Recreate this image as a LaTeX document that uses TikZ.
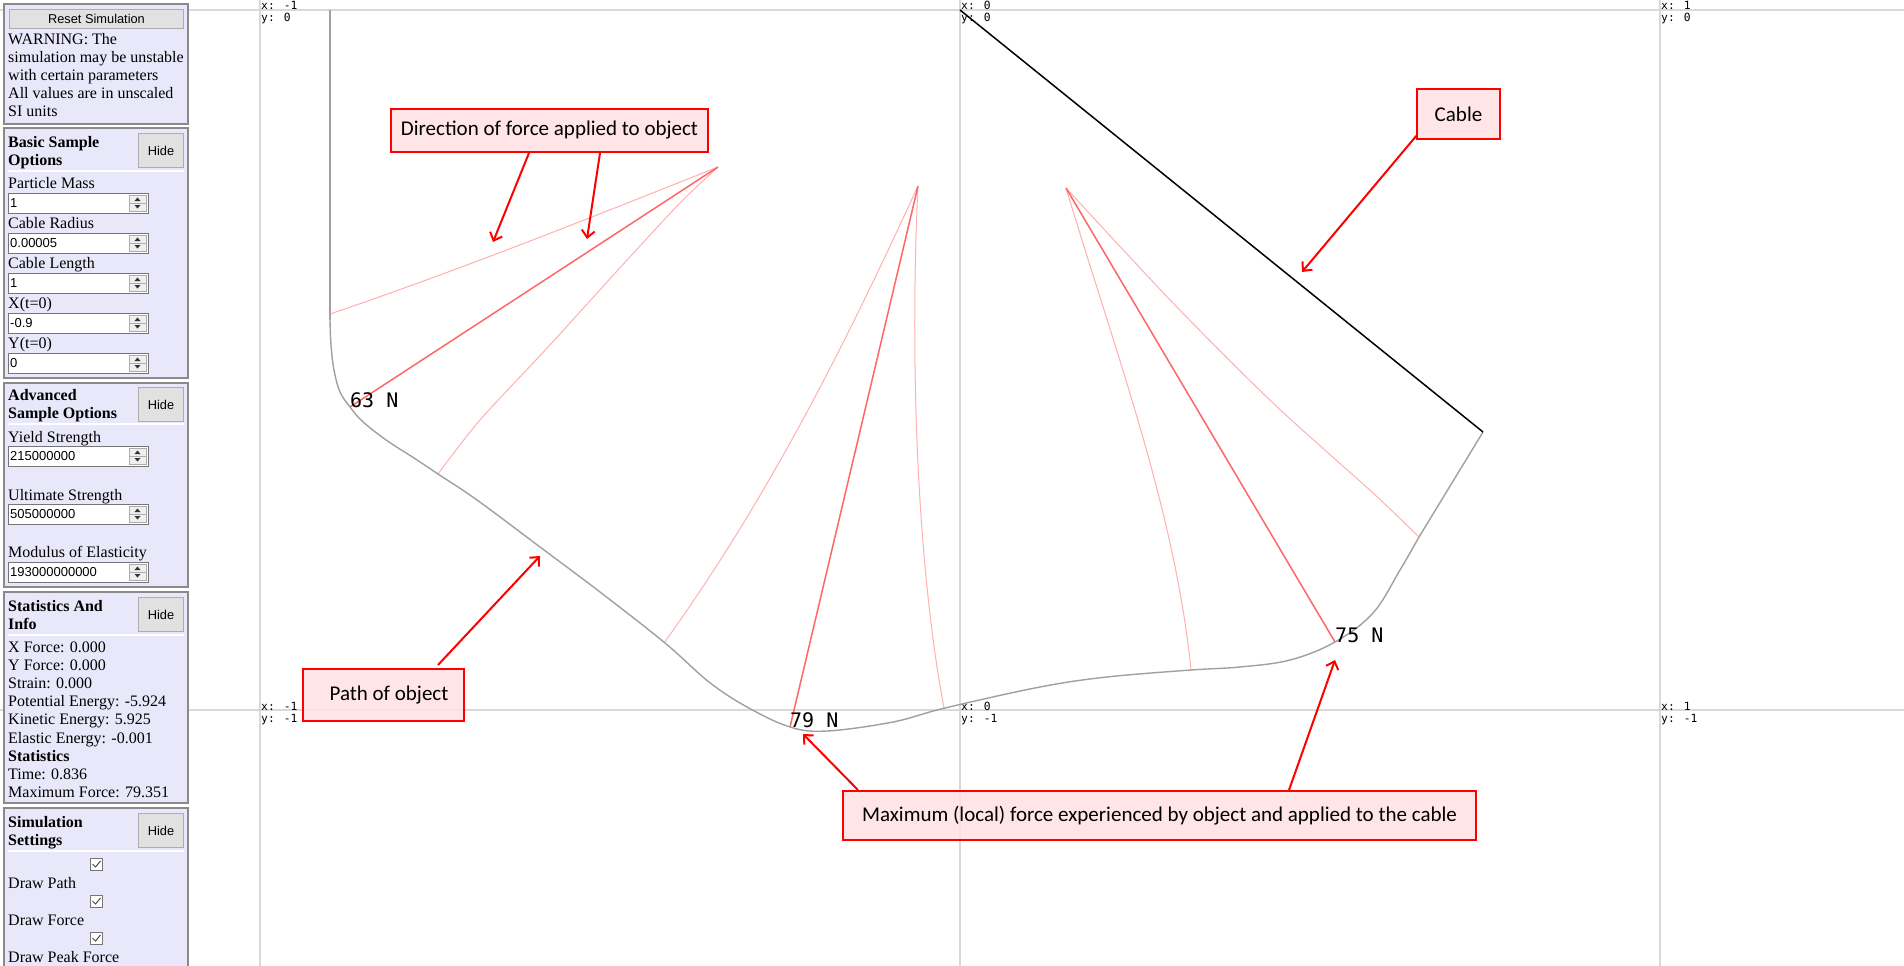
\documentclass[tikz,border=0pt]{standalone}
\usepackage{fontspec}
\setmainfont{Liberation Serif}
\newfontfamily\calib{Carlito}
\newfontfamily\arialf{Liberation Sans}
\newfontfamily\monof{DejaVu Sans Mono}
\usetikzlibrary{arrows.meta}

\definecolor{panelfill}{HTML}{E8E8FA}
\definecolor{panelborder}{HTML}{8A8A8A}
\definecolor{btnfill}{HTML}{E1E1E1}
\definecolor{btnborder}{HTML}{ADADAD}
\definecolor{inborder}{HTML}{767676}
\definecolor{spinfill}{HTML}{EFEFEF}
\definecolor{gridc}{HTML}{D9D9D9}
\definecolor{pathgray}{HTML}{A0A0A0}
\definecolor{forcelightc}{HTML}{FFB0B0}
\definecolor{forcepeakc}{HTML}{FF6666}
\definecolor{annotfill}{HTML}{FFE1E1}
\definecolor{annotred}{HTML}{FF0000}

\tikzset{
  panel/.style={draw=panelborder, fill=panelfill, line width=1.3pt},
  btn/.style={draw=btnborder, fill=btnfill, line width=1pt, inner sep=0pt,
    font=\arialf\fontsize{12.8}{15}\selectfont},
  ptxt/.style={anchor=base west, inner sep=0pt, font=\fontsize{16}{18}\selectfont},
  phead/.style={anchor=base west, inner sep=0pt, font=\fontsize{16}{18}\selectfont\bfseries},
  sepline/.style={draw=white, line width=2pt},
  inbox/.style={draw=inborder, fill=white, line width=1pt, inner sep=0pt},
  intxt/.style={anchor=base west, inner sep=0pt, font=\arialf\fontsize{13}{15}\selectfont},
  spinbox/.style={draw=btnborder, fill=spinfill, line width=0.8pt},
  chkbox/.style={draw=inborder, fill=white, line width=1pt},
  chkmark/.style={draw=black!70, line width=1pt},
  gridline/.style={draw=gridc, line width=2pt},
  glab/.style={anchor=base west, inner sep=0pt, font=\monof\fontsize{11.3}{12}\selectfont},
  objpath/.style={draw=pathgray, line width=1.4pt},
  cableline/.style={draw=black, line width=1.5pt},
  forcelight/.style={draw=forcelightc, line width=1pt},
  forcepeak/.style={draw=forcepeakc, line width=1.5pt},
  flabel/.style={anchor=base west, inner sep=0pt, font=\monof\fontsize{20}{22}\selectfont},
  annot/.style={draw=annotred, fill=annotfill, fill opacity=0.85, text opacity=1,
    line width=2pt, inner sep=0pt, font=\calib\fontsize{21}{24}\selectfont},
  annarrow/.style={draw=annotred, line width=2pt, -{Straight Barb[length=7pt,width=13pt]}},
}

\newcommand\inbx[3]{%
  \node[inbox, anchor=north west, minimum width=140pt, minimum height=20pt] (#1) at (8,#2) {};
  \node[intxt] (#1txt) at (10,{#2+14.5}) {#3};
  \draw[spinbox] (129,{#2+2}) rectangle (146,{#2+18});
  \draw[spinbox] (129,{#2+10}) -- (146,{#2+10});
  \fill[black!80] (134.5,{#2+8}) -- (140.5,{#2+8}) -- (137.5,{#2+4.5}) -- cycle;
  \fill[black!80] (134.5,{#2+12}) -- (140.5,{#2+12}) -- (137.5,{#2+15.5}) -- cycle;
}
\newcommand\chkbx[2]{%
  \node[chkbox, anchor=north west, minimum width=12pt, minimum height=12pt, inner sep=0pt] (#1) at (90,#2) {};
  \draw[chkmark] (92.5,{#2+6}) -- (95.5,{#2+9}) -- (100.5,{#2+3});
}
\newcommand\hidebtn[2]{%
  \node[btn, anchor=north west, minimum width=45pt, minimum height=34pt] (#1) at (138,#2) {Hide};
}

\begin{document}
\begin{tikzpicture}[x=1pt, y=-1pt]
\useasboundingbox (0,0) rectangle (1904,966);
\fill[white] (0,0) rectangle (1904,966);

% ---------- grid ----------
\draw[gridline] (260,0) -- (260,966);
\draw[gridline] (960,0) -- (960,966);
\draw[gridline] (1660,0) -- (1660,966);
\draw[gridline] (0,10) -- (1904,10);
\draw[gridline] (0,710) -- (1904,710);

\node[glab] (g1x) at (261,10) {x: -1};  \node[glab] (g1y) at (261,22) {y: 0};
\node[glab] (g2x) at (961,10) {x: 0};   \node[glab] (g2y) at (961,22) {y: 0};
\node[glab] (g3x) at (1661,10) {x: 1};  \node[glab] (g3y) at (1661,22) {y: 0};
\node[glab] (g4x) at (261,710) {x: -1}; \node[glab] (g4y) at (261,722) {y: -1};
\node[glab] (g5x) at (961,710) {x: 0};  \node[glab] (g5y) at (961,722) {y: -1};
\node[glab] (g6x) at (1661,710) {x: 1}; \node[glab] (g6y) at (1661,722) {y: -1};

% ---------- panel 1 ----------
\draw[panel] (4,4) rectangle (188,124);
\node[btn, anchor=north west, minimum width=174pt, minimum height=19pt] (reset) at (9,9) {Reset Simulation};
\node[ptxt] (w1) at (8,45) {WARNING: The};
\node[ptxt] (w2) at (8,63) {simulation may be unstable};
\node[ptxt] (w3) at (8,81) {with certain parameters};
\node[ptxt] (w4) at (8,99) {All values are in unscaled};
\node[ptxt] (w5) at (8,117) {SI units};

% ---------- panel 2 ----------
\draw[panel] (4,128) rectangle (188,378);
\node[phead] (h2a) at (8,147) {Basic Sample};
\node[phead] (h2b) at (8,165) {Options};
\hidebtn{hide2}{133}
\draw[sepline] (8,171) -- (184,171);
\node[ptxt] (l21) at (8,188) {Particle Mass};
\inbx{in21}{193}{1}
\node[ptxt] (l22) at (8,228) {Cable Radius};
\inbx{in22}{233}{0.00005}
\node[ptxt] (l23) at (8,268) {Cable Length};
\inbx{in23}{273}{1}
\node[ptxt] (l24) at (8,308) {X(t=0)};
\inbx{in24}{313}{-0.9}
\node[ptxt] (l25) at (8,348) {Y(t=0)};
\inbx{in25}{353}{0}

% ---------- panel 3 ----------
\draw[panel] (4,383) rectangle (188,587);
\node[phead] (h3a) at (8,400) {Advanced};
\node[phead] (h3b) at (8,418) {Sample Options};
\hidebtn{hide3}{387}
\draw[sepline] (8,424) -- (184,424);
\node[ptxt] (l31) at (8,442) {Yield Strength};
\inbx{in31}{446}{215000000}
\node[ptxt] (l32) at (8,500) {Ultimate Strength};
\inbx{in32}{504}{505000000}
\node[ptxt] (l33) at (8,557) {Modulus of Elasticity};
\inbx{in33}{562}{193000000000}

% ---------- panel 4 ----------
\draw[panel] (4,592) rectangle (188,803);
\node[phead] (h4a) at (8,611) {Statistics And};
\node[phead] (h4b) at (8,629) {Info};
\hidebtn{hide4}{597}
\draw[sepline] (8,635) -- (184,635);
\node[ptxt] (s1) at (8,652) {X Force: 0.000};
\node[ptxt] (s2) at (8,670.2) {Y Force: 0.000};
\node[ptxt] (s3) at (8,688.4) {Strain: 0.000};
\node[ptxt] (s4) at (8,706.6) {Potential Energy: -5.924};
\node[ptxt] (s5) at (8,724.8) {Kinetic Energy: 5.925};
\node[ptxt] (s6) at (8,743) {Elastic Energy: -0.001};
\node[phead] (s7) at (8,761.2) {Statistics};
\node[ptxt] (s8) at (8,779.4) {Time: 0.836};
\node[ptxt] (s9) at (8,797.4) {Maximum Force: 79.351};

% ---------- panel 5 ----------
\draw[panel] (4,808) rectangle (188,980);
\node[phead] (h5a) at (8,827) {Simulation};
\node[phead] (h5b) at (8,845) {Settings};
\hidebtn{hide5}{813}
\draw[sepline] (8,851) -- (184,851);
\chkbx{c1}{858}
\node[ptxt] (d1) at (8,888) {Draw Path};
\chkbx{c2}{895}
\node[ptxt] (d2) at (8,925) {Draw Force};
\chkbx{c3}{932}
\node[ptxt] (d3) at (8,962) {Draw Peak Force};

% ---------- key points ----------
\coordinate (pivot) at (960,10);
\coordinate (bob) at (1483,432);
\coordinate (start) at (330,10);
\coordinate (p63) at (350,407);
\coordinate (p79) at (790,727);
\coordinate (p75) at (1335,642);
\coordinate (t1) at (718,167);
\coordinate (t2) at (918,186);
\coordinate (t3) at (1066,188);

% ---------- force traces ----------
\draw[forcelight] (330,314) .. controls (460,270) and (600,214) .. (t1);
\draw[forcelight] plot[smooth, tension=0.5] coordinates {(718,167) (680,203) (617,271) (549,346) (480,420) (438,474)};
\draw[forcepeak] (p63) -- (t1);

\draw[forcelight] (t2) .. controls (849,336) and (772,493) .. (664,643);
\draw[forcelight] (t2) .. controls (910,350) and (916,560) .. (944,708);
\draw[forcepeak] (p79) -- (t2);

\draw[forcelight] (t3) .. controls (1114,348) and (1175,510) .. (1191,670);
\draw[forcelight] plot[smooth, tension=0.5] coordinates {(1066,188) (1173,303) (1273,403) (1373,493) (1419,537)};
\draw[forcepeak] (p75) -- (t3);

% ---------- path of object ----------
\draw[objpath] (start) -- (330,320);
\draw[objpath] plot[smooth, tension=0.6] coordinates {(330,320) (331,345) (334,370) (340,392) (350,407) (360,419) (374,431) (392,444) (414,458) (438,474) (477,500) (540,547) (600,592) (665,643) (709,682) (747,707) (790,727) (827,731) (893,722) (945,708) (1040,687) (1107,677) (1191,670) (1240,667) (1290,660) (1335,642) (1373,613) (1400,570) (1419,537)};
\draw[objpath] (1419,537) -- (bob);

% ---------- cable ----------
\draw[cableline] (pivot) -- (bob);

% ---------- force labels ----------
\node[flabel] (f63) at (p63) {63 N};
\node[flabel] (f79) at (p79) {79 N};
\node[flabel] (f75) at (p75) {75 N};

% ---------- annotations ----------
\node[annot, minimum width=317pt, minimum height=43pt] (dirbox) at (549.5,130.5) {Direction of force applied to object};
\node[annot, minimum width=83pt, minimum height=50pt] (cablebox) at (1458.5,114) {Cable};
\node[annot, minimum width=161pt, minimum height=52pt] (pathbox) at (383.5,695) {\hspace*{11pt}Path of object};
\node[annot, minimum width=633pt, minimum height=49pt] (maxbox) at (1159.5,815.5) {Maximum (local) force experienced by object and applied to the cable};

\coordinate (a1e) at (493,242);
\coordinate (a2e) at (587,239);
\coordinate (ace) at (1302,272);
\coordinate (ape) at (540,556);
\coordinate (am1e) at (803,734);
\coordinate (am2e) at (1335,660);

\draw[annarrow] ([xshift=-20.5pt]dirbox.south) -- (a1e);
\draw[annarrow] ([xshift=50.5pt]dirbox.south) -- (a2e);
\draw[annarrow] ([xshift=1pt,yshift=5pt]cablebox.south west) -- (ace);
\draw[annarrow] ([xshift=54.5pt,yshift=3pt]pathbox.north) -- (ape);
\draw[annarrow] ([xshift=-301.5pt]maxbox.north) -- (am1e);
\draw[annarrow] ([xshift=129.5pt]maxbox.north) -- (am2e);
\end{tikzpicture}
\end{document}
